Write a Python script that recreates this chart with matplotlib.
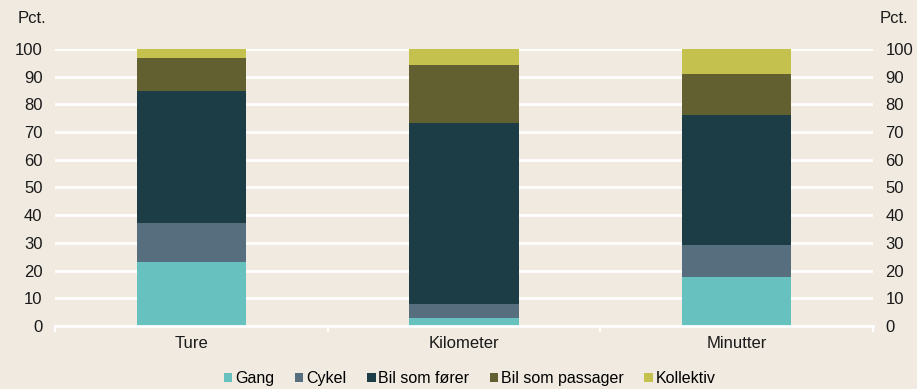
import matplotlib.pyplot as plt
import numpy as np

plt.rcParams['font.family'] = ['Liberation Sans', 'DejaVu Sans']

categories = ["Ture", "Kilometer", "Minutter"]
series = ["Gang", "Cykel", "Bil som fører", "Bil som passager", "Kollektiv"]
gang = [23.1, 3.0, 17.8]
cykel = [14.0, 5.0, 11.4]
bil_forer = [47.6, 65.3, 46.8]
bil_passager = [12.2, 21.1, 15.1]
kollektiv = [3.1, 5.6, 8.9]
yticks = [0, 10, 20, 30, 40, 50, 60, 70, 80, 90, 100]

colors = ["#66c1bf", "#566e7d", "#1c3c46", "#626031", "#c5c14f"]
bg = "#f0eae0"
fs = 12

fig = plt.figure(figsize=(9.17, 3.89), dpi=100, facecolor=bg)
ax = fig.add_axes([0.060, 0.162, 0.892, 0.712], facecolor=bg)

# stacked bars, one segment per transport mode
x = np.arange(len(categories))
bottom = np.zeros(len(categories))
for name, vals, col in zip(series, [gang, cykel, bil_forer, bil_passager, kollektiv], colors):
    ax.bar(x, vals, 0.4, bottom=bottom, color=col, label=name, zorder=3)
    bottom += np.array(vals)

ax.set_xlim(-0.5, 2.5)
ax.set_ylim(0, 100)
ax.set_yticks(yticks)
ax.set_xticks(x)
ax.set_xticklabels(categories, fontsize=fs, color="#1a1a1a")
ax.set_xticks([-0.5, 0.5, 1.5, 2.5], minor=True)
ax.tick_params(axis='x', which='major', length=0, pad=7)
ax.tick_params(axis='x', which='minor', length=4, color='white', width=1.5)
ax.tick_params(axis='y', length=0, labelsize=fs, labelcolor="#1a1a1a", pad=9,
               labelleft=True, labelright=True)
ax.grid(axis='y', color='white', linewidth=2, zorder=1)
for s in ['top', 'left', 'right']:
    ax.spines[s].set_visible(False)
ax.spines['bottom'].set_color('white')
ax.spines['bottom'].set_linewidth(2)
ax.spines['bottom'].set_zorder(4)

fig.text(0.050, 0.953, "Pct.", fontsize=fs, ha='right', va='center', color="#1a1a1a")
fig.text(0.959, 0.953, "Pct.", fontsize=fs, ha='left', va='center', color="#1a1a1a")

fig.legend(loc='center', bbox_to_anchor=(0.512, 0.027), ncol=5, frameon=False,
           fontsize=11.5, handlelength=0.55, handleheight=0.55, handletextpad=0.15,
           columnspacing=1.3, borderpad=0)

fig.savefig("out.png", dpi=100, facecolor=bg)
